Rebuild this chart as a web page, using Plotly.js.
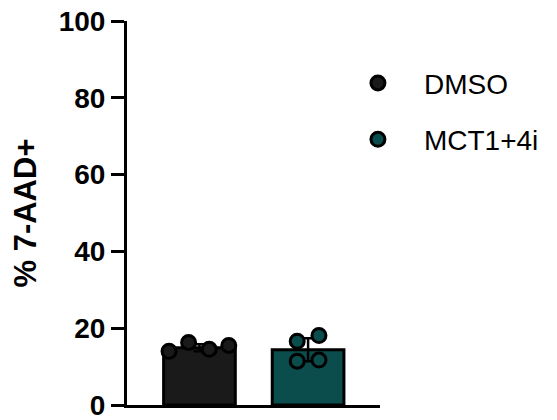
<!DOCTYPE html>
<html><head><meta charset="utf-8">
<script src="https://cdn.plot.ly/plotly-3.0.1.min.js"></script>
<style>body{margin:0;padding:0;background:#fff}#chart{width:557px;height:420px}</style>
</head><body><div id="chart"></div>
<script>
const groups = ["DMSO", "MCT1+4i"];
const barMeans = [14.9, 14.4];
const barErrors = [0.9, 3.0];
const barColors = ["#1a1a1a", "#0b4c4c"];
const dmsoX = [-0.28, -0.1, 0.09, 0.27];
const dmsoY = [14.0, 16.3, 14.5, 15.5];
const mctX = [0.9, 1.1, 0.9, 1.1];
const mctY = [16.6, 18.1, 11.4, 11.7];
const yTicks = [0, 20, 40, 60, 80, 100];

const traces = [
  {type: "bar", x: [0, 1], y: barMeans, width: 0.66, showlegend: false,
   marker: {color: barColors, line: {color: "#000", width: 3}},
   error_y: {type: "data", array: barErrors, visible: true, color: "#000", thickness: 2.5, width: 6}},
  {type: "scatter", mode: "markers", name: groups[0], legendgroup: "a", x: dmsoX, y: dmsoY,
   marker: {size: 14, color: barColors[0], line: {color: "#000", width: 3}}},
  {type: "scatter", mode: "markers", name: groups[1], legendgroup: "b", x: mctX, y: mctY,
   marker: {size: 14, color: barColors[1], line: {color: "#000", width: 3}}}
];

const layout = {
  width: 557, height: 420,
  margin: {l: 127, r: 177, t: 21, b: 15},
  paper_bgcolor: "#fff", plot_bgcolor: "#fff",
  font: {family: "Liberation Sans, Arial, sans-serif", color: "#000"},
  showlegend: true,
  legend: {x: 0.81, y: 0.903, xanchor: "left", yanchor: "top",
           font: {size: 28, color: "#000"}, tracegroupgap: 17, traceorder: "grouped",
           itemwidth: 82, bgcolor: "rgba(0,0,0,0)"},
  xaxis: {range: [-0.667, 1.662], showgrid: false, zeroline: false, showticklabels: false,
          ticks: "", showline: true, linecolor: "#000", linewidth: 3, fixedrange: true,
          automargin: false},
  yaxis: {range: [0, 100], tickvals: yTicks, ticktext: yTicks.map(String),
          showgrid: false, zeroline: false, showline: true, linecolor: "#000", linewidth: 3,
          ticks: "outside", ticklen: 13, tickwidth: 3, tickcolor: "#000",
          ticklabeloverflow: "allow", automargin: false,
          tickfont: {size: 28, family: "Liberation Sans, Arial, sans-serif", weight: "bold"},
          title: {text: "<b>% 7-AAD+</b>", font: {size: 31}, standoff: 13}}
};
Plotly.newPlot("chart", traces, layout, {displayModeBar: false, staticPlot: true});
</script></body></html>
